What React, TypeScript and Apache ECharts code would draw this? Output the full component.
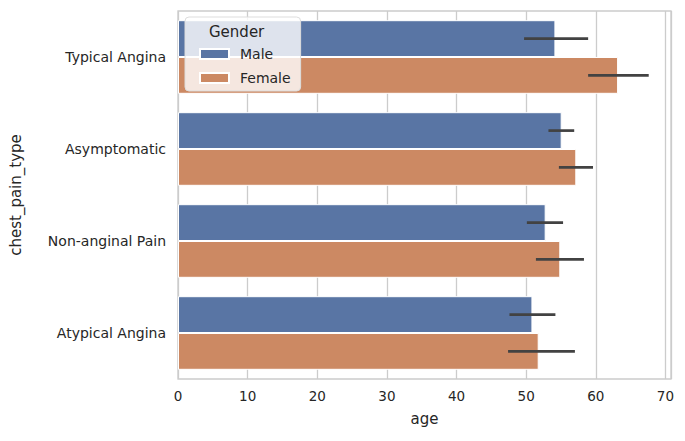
import { useEffect, useRef } from 'react';
import * as echarts from 'echarts';

const categories = ['Typical Angina', 'Asymptomatic', 'Non-anginal Pain', 'Atypical Angina'];
const maleAge = [54.2, 55.1, 52.8, 50.9];
const femaleAge = [63.2, 57.2, 54.9, 51.8];
const maleCi = [[49.7, 58.9], [53.2, 56.9], [50.1, 55.3], [47.6, 54.2]];
const femaleCi = [[58.9, 67.6], [54.7, 59.6], [51.4, 58.3], [47.4, 57.0]];
const xTicks = [0, 10, 20, 30, 40, 50, 60, 70];

const BAR = 36.8;

function errorSeries(name: string, ci: number[][], offset: number) {
  return {
    type: 'custom',
    name: name + ' ci',
    silent: true,
    data: ci.map((c, i) => [c[0], c[1], i]),
    renderItem: (_p: any, api: any) => {
      const a = api.coord([api.value(0), api.value(2)]);
      const b = api.coord([api.value(1), api.value(2)]);
      return {
        type: 'line',
        shape: { x1: a[0], y1: a[1] + offset, x2: b[0], y2: b[1] + offset },
        style: { stroke: '#424242', lineWidth: 2.7 },
      };
    },
    z: 5,
  };
}

export default function App() {
  const ref = useRef<HTMLDivElement>(null);

  useEffect(() => {
    if (!ref.current) return;
    const chart = echarts.init(ref.current, undefined, { renderer: 'svg' });
    const font = 'DejaVu Sans';
    chart.setOption({
      animation: false,
      backgroundColor: '#ffffff',
      textStyle: { fontFamily: font },
      grid: { left: 176, right: 14, top: 11, bottom: 62, show: true, borderColor: '#cccccc', borderWidth: 1.3 },
      xAxis: {
        type: 'value',
        min: 0,
        max: 70.8,
        interval: 10,
        name: 'age',
        nameLocation: 'middle',
        nameGap: 32,
        nameTextStyle: { color: '#262626', fontSize: 15 },
        axisLine: { show: false },
        axisTick: { show: false },
        axisLabel: {
          color: '#262626', fontSize: 13.5, margin: 10,
          formatter: (v: number) => (xTicks.includes(v) ? String(v) : ''),
        },
        splitLine: { lineStyle: { color: '#cccccc', width: 1.3 } },
      },
      yAxis: {
        type: 'category',
        data: categories,
        inverse: true,
        name: 'chest_pain_type',
        nameLocation: 'middle',
        nameGap: 155,
        nameTextStyle: { color: '#262626', fontSize: 15 },
        axisLine: { show: false },
        axisTick: { show: false },
        axisLabel: { color: '#262626', fontSize: 14, margin: 12 },
        splitLine: { show: false },
      },
      legend: {
        orient: 'vertical',
        left: 185,
        top: 17,
        padding: [30, 10, 6, 14],
        backgroundColor: 'rgba(255,255,255,0.8)',
        borderColor: '#dddddd',
        borderWidth: 1,
        borderRadius: 4,
        itemWidth: 29,
        itemHeight: 10,
        itemGap: 10,
        data: ['Male', 'Female'],
        textStyle: { color: '#262626', fontSize: 14, padding: [0, 0, 0, 6] },
        icon: 'rect',
      },
      graphic: [
        { type: 'text', left: 209, top: 24, z: 100, style: { text: 'Gender', fontSize: 15, fill: '#262626', fontFamily: font } },
      ],
      series: [
        {
          name: 'Male', type: 'bar', data: maleAge, barWidth: BAR, barGap: '0%',
          itemStyle: { color: '#5975a4', borderColor: '#ffffff', borderWidth: 1 },
        },
        {
          name: 'Female', type: 'bar', data: femaleAge, barWidth: BAR, barGap: '0%',
          itemStyle: { color: '#cc8963', borderColor: '#ffffff', borderWidth: 1 },
        },
        errorSeries('Male', maleCi, -BAR / 2),
        errorSeries('Female', femaleCi, BAR / 2),
      ],
    });
    return () => chart.dispose();
  }, []);

  return <div ref={ref} style={{ width: 685, height: 441, margin: -8 }} />;
}
